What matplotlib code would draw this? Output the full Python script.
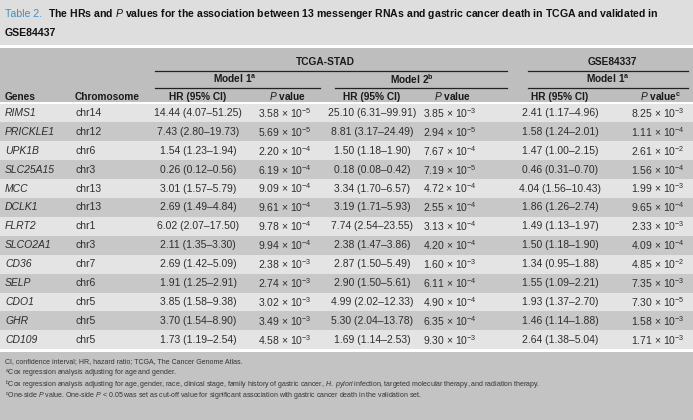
import matplotlib

matplotlib.use("Agg")
import matplotlib.pyplot as plt
from matplotlib.patches import Rectangle

plt.rcParams["font.family"] = ["Liberation Sans", "DejaVu Sans"]
plt.rcParams["mathtext.fontset"] = "custom"
plt.rcParams["mathtext.rm"] = "Liberation Sans"
plt.rcParams["mathtext.it"] = "Liberation Sans:italic"
plt.rcParams["mathtext.bf"] = "Liberation Sans:bold"

# ---------------- data ----------------
genes = ["RIMS1", "PRICKLE1", "UPK1B", "SLC25A15", "MCC", "DCLK1", "FLRT2",
         "SLCO2A1", "CD36", "SELP", "CDO1", "GHR", "CD109"]
chromosomes = ["chr14", "chr12", "chr6", "chr3", "chr13", "chr13", "chr1",
               "chr3", "chr7", "chr6", "chr5", "chr5", "chr5"]
hr_model1 = ["14.44 (4.07–51.25)", "7.43 (2.80–19.73)", "1.54 (1.23–1.94)", "0.26 (0.12–0.56)",
             "3.01 (1.57–5.79)", "2.69 (1.49–4.84)", "6.02 (2.07–17.50)", "2.11 (1.35–3.30)",
             "2.69 (1.42–5.09)", "1.91 (1.25–2.91)", "3.85 (1.58–9.38)", "3.70 (1.54–8.90)",
             "1.73 (1.19–2.54)"]
p_model1 = [("3.58", -5), ("5.69", -5), ("2.20", -4), ("6.19", -4), ("9.09", -4), ("9.61", -4),
            ("9.78", -4), ("9.94", -4), ("2.38", -3), ("2.74", -3), ("3.02", -3), ("3.49", -3),
            ("4.58", -3)]
hr_model2 = ["25.10 (6.31–99.91)", "8.81 (3.17–24.49)", "1.50 (1.18–1.90)", "0.18 (0.08–0.42)",
             "3.34 (1.70–6.57)", "3.19 (1.71–5.93)", "7.74 (2.54–23.55)", "2.38 (1.47–3.86)",
             "2.87 (1.50–5.49)", "2.90 (1.50–5.61)", "4.99 (2.02–12.33)", "5.30 (2.04–13.78)",
             "1.69 (1.14–2.53)"]
p_model2 = [("3.85", -3), ("2.94", -5), ("7.67", -4), ("7.19", -5), ("4.72", -4), ("2.55", -4),
            ("3.13", -4), ("4.20", -4), ("1.60", -3), ("6.11", -4), ("4.90", -4), ("6.35", -4),
            ("9.30", -3)]
hr_gse = ["2.41 (1.17–4.96)", "1.58 (1.24–2.01)", "1.47 (1.00–2.15)", "0.46 (0.31–0.70)",
          "4.04 (1.56–10.43)", "1.86 (1.26–2.74)", "1.49 (1.13–1.97)", "1.50 (1.18–1.90)",
          "1.34 (0.95–1.88)", "1.55 (1.09–2.21)", "1.93 (1.37–2.70)", "1.46 (1.14–1.88)",
          "2.64 (1.38–5.04)"]
p_gse = [("8.25", -3), ("1.11", -4), ("2.61", -2), ("1.56", -4), ("1.99", -3), ("9.65", -4),
         ("2.33", -3), ("4.09", -4), ("4.85", -2), ("7.35", -3), ("7.30", -5), ("1.58", -3),
         ("1.71", -3)]

footnotes = [
    "CI, confidence interval; HR, hazard ratio; TCGA, The Cancer Genome Atlas.",
    r"$^{\mathrm{a}}$Cox regression analysis adjusting for age and gender.",
    r"$^{\mathrm{b}}$Cox regression analysis adjusting for age, gender, race, clinical stage, family history of gastric cancer, "
    r"$H.$ $pylori$ infection, targeted molecular therapy, and radiation therapy.",
    r"$^{\mathrm{c}}$One-side $P$ value. One-side $P$ < 0.05 was set as cut-off value for significant association with gastric cancer death in the validation set.",
]

# ---------------- layout ----------------
W, H = 693, 420
fig = plt.figure(figsize=(W / 100, H / 100), dpi=100)
ax = fig.add_axes([0, 0, 1, 1])
ax.set_xlim(0, W)
ax.set_ylim(H, 0)
ax.axis("off")

BG_TITLE = "#dedede"
BG_HEAD = "#bebebe"
ROW_LIGHT = "#e4e4e4"
ROW_DARK = "#c8c8c8"
BG_FOOT = "#c3c3c3"
TXT = "#2e2e2e"

ROW_TOP = 103.5
ROW_H = 18.9

ax.add_patch(Rectangle((0, 0), W, 45, color=BG_TITLE, lw=0))
ax.add_patch(Rectangle((0, 47.5), W, ROW_TOP - 49, color=BG_HEAD, lw=0))
for i in range(len(genes)):
    ax.add_patch(Rectangle((0, ROW_TOP + i * ROW_H), W, ROW_H,
                           color=ROW_LIGHT if i % 2 == 0 else ROW_DARK, lw=0))
foot_top = ROW_TOP + len(genes) * ROW_H + 2.5
ax.add_patch(Rectangle((0, foot_top), W, H - foot_top, color=BG_FOOT, lw=0))

# title
t1 = ax.text(5, 14, "Table 2.", color="#3f8fc8", fontsize=7.6, va="center")
ax.annotate(r"The HRs and $\mathbf{\mathit{P}}$ values for the association between 13 messenger RNAs and gastric cancer death in TCGA and validated in",
            xy=(1, 0.5), xycoords=t1, xytext=(4, 0), textcoords="offset points",
            color="#111111", fontsize=7.6, va="center", fontweight="bold")
ax.text(5, 33, "GSE84437", color="#111111", fontsize=7.6, va="center", fontweight="bold")

# header
hkw = dict(fontsize=7.3, fontweight="bold", color="#1a1a1a", va="center", ha="center")
ax.text(325, 62, "TCGA-STAD", **hkw)
ax.text(612, 62, "GSE84337", **hkw)
ax.plot([155, 507], [71, 71], color="#222222", lw=0.9)
ax.plot([528, 688], [71, 71], color="#222222", lw=0.9)
ax.text(235, 79, r"Model 1$^{\mathbf{a}}$", **hkw)
ax.text(412, 79, r"Model 2$^{\mathbf{b}}$", **hkw)
ax.text(608, 79, r"Model 1$^{\mathbf{a}}$", **hkw)
for x0, x1 in [(155, 320), (335, 507), (528, 688)]:
    ax.plot([x0, x1], [88, 88], color="#222222", lw=0.9)

cols = [198, 285, 372, 450, 560, 658]
ax.text(5, 96.5, "Genes", **{**hkw, "ha": "left"})
ax.text(75, 96.5, "Chromosome", **{**hkw, "ha": "left"})
for cx, lab in zip(cols, ["HR (95% CI)", r"$\mathbf{\mathit{P}}$ value", "HR (95% CI)",
                          r"$\mathbf{\mathit{P}}$ value", "HR (95% CI)",
                          r"$\mathbf{\mathit{P}}$ value$^{\mathbf{c}}$"]):
    ax.text(cx + (3 if "P" in lab else 0), 96.5, lab, **hkw)


def pfmt(p):
    return r"%s $\times$ 10$^{%d}$" % (p[0], p[1])


dkw = dict(fontsize=7.5, color=TXT, va="center", ha="center")
for i in range(len(genes)):
    y = ROW_TOP + (i + 0.5) * ROW_H
    ax.text(5, y, genes[i], fontsize=7.5, color=TXT, va="center", style="italic")
    ax.text(75, y, chromosomes[i], fontsize=7.5, color=TXT, va="center")
    vals = [hr_model1[i], pfmt(p_model1[i]), hr_model2[i], pfmt(p_model2[i]),
            hr_gse[i], pfmt(p_gse[i])]
    for cx, v in zip(cols, vals):
        ax.text(cx, y, v, **dkw)

# footnotes
for k, line in enumerate(footnotes):
    ax.text(5, foot_top + 10 + k * 11.8, line, fontsize=5.0, color="#333333", va="center")

fig.savefig("out.png", dpi=100)
